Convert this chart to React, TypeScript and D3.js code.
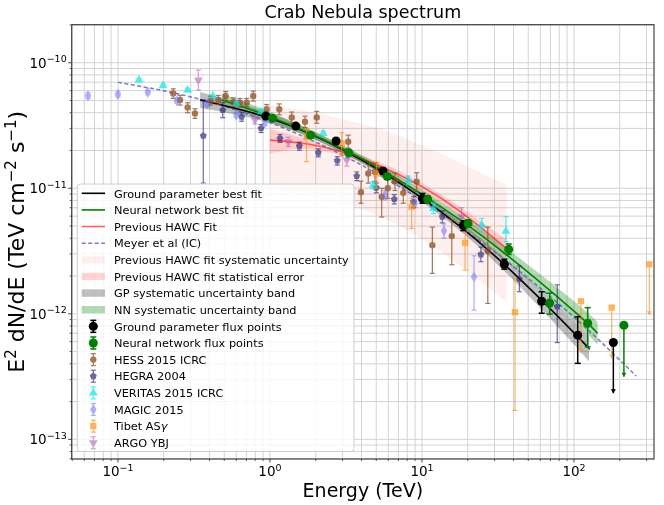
import React from 'react';
import * as d3 from 'd3';

const W = 664, H = 505;
const L = 71.7, R = 654, T = 24.7, B = 459;

// ---- fit curves ----
const gpFitE = [0.347, 1, 3.16, 10, 31.6, 100, 125.6];
const gpFitF = [5.05e-11, 3.61e-11, 1.97e-11, 8.36e-12, 2.75e-12, 7.05e-13, 5.24e-13];
const gpBandHi = [5.85e-11, 3.96e-11, 2.09e-11, 8.95e-12, 3.08e-12, 8.7e-13, 6.6e-13];
const gpBandLo = [4.36e-11, 3.31e-11, 1.86e-11, 7.8e-12, 2.45e-12, 5.7e-13, 4.16e-13];

const nnFitE = [0.481, 1, 3.16, 10, 31.6, 100, 143];
const nnFitF = [5.05e-11, 3.72e-11, 2.0e-11, 8.93e-12, 3.34e-12, 1.05e-12, 7.0e-13];
const nnBandHi = [5.67e-11, 4.08e-11, 2.14e-11, 9.68e-12, 3.74e-12, 1.26e-12, 8.6e-13];
const nnBandLo = [4.5e-11, 3.39e-11, 1.87e-11, 8.24e-12, 2.97e-12, 8.7e-13, 5.7e-13];

const hawcFitE = [1, 1.78, 3.16, 5.62, 10, 17.8, 36];
const hawcFitF = [2.42e-11, 2.25e-11, 1.9e-11, 1.46e-11, 1.03e-11, 6.55e-12, 3.32e-12];
const hawcStatHi = [2.96e-11, 2.45e-11, 2.0e-11, 1.56e-11, 1.1e-11, 7.1e-12, 3.9e-12];
const hawcStatLo = [1.9e-11, 2.05e-11, 1.78e-11, 1.37e-11, 9.6e-12, 6.0e-12, 2.83e-12];
const hawcSysHi = [4.6e-11, 4.1e-11, 3.5e-11, 2.9e-11, 2.2e-11, 1.6e-11, 1.06e-11];
const hawcSysLo = [9.7e-12, 8.6e-12, 7.3e-12, 5.8e-12, 3.9e-12, 2.4e-12, 1.24e-12];

const meyerE = [0.1, 0.316, 1, 3.16, 10, 31.6, 100, 257];
const meyerF = [6.98e-11, 5.27e-11, 3.34e-11, 1.78e-11, 7.94e-12, 2.98e-12, 9.4e-13, 3.19e-13];

// ---- flux points ----
const gpE = [0.94, 1.48, 2.72, 5.54, 10.07, 18.7, 34.8, 61.3, 105.8];
const gpF = [3.76e-11, 3.13e-11, 2.38e-11, 1.37e-11, 8.3e-12, 5.05e-12, 2.48e-12, 1.26e-12, 6.76e-13];
const gpHi = [3.9e-11, 3.25e-11, 2.48e-11, 1.45e-11, 9.1e-12, 5.5e-12, 2.72e-12, 1.5e-12, 9.46e-13];
const gpLo = [3.62e-11, 3.0e-11, 2.28e-11, 1.3e-11, 7.6e-12, 4.6e-12, 2.27e-12, 1.01e-12, 4.03e-13];
const gpUlE = [181.5];
const gpUlF = [5.9e-13];
const gpUlEnd = [2.33e-13];

const nnE = [1.04, 1.85, 3.3, 5.91, 10.9, 20.1, 37.2, 69.2, 123];
const nnF = [3.61e-11, 2.65e-11, 1.92e-11, 1.24e-11, 8.17e-12, 5.24e-12, 3.26e-12, 1.22e-12, 8.4e-13];
const nnHi = [3.75e-11, 2.76e-11, 2.0e-11, 1.3e-11, 8.7e-12, 5.6e-12, 3.6e-12, 1.46e-12, 1.12e-12];
const nnLo = [3.48e-11, 2.55e-11, 1.84e-11, 1.18e-11, 7.7e-12, 4.9e-12, 2.97e-12, 9.95e-13, 5.45e-13];
const nnUlE = [213];
const nnUlF = [8.1e-13];
const nnUlEnd = [3.15e-13];

const hessE = [0.231, 0.256, 0.287, 0.321, 0.407, 0.457, 0.511, 0.574, 0.635, 0.703, 0.776, 0.951, 1.151, 1.39, 1.70, 2.03, 3.27, 3.97, 4.43, 4.91, 5.43, 5.95, 6.64, 7.53, 9.23, 11.7, 15.7, 27.1];
const hessF = [5.7e-11, 5.05e-11, 4.41e-11, 3.95e-11, 4.98e-11, 5.05e-11, 5.43e-11, 4.86e-11, 4.8e-11, 4.8e-11, 5.43e-11, 4.26e-11, 4.26e-11, 3.67e-11, 3.39e-11, 3.67e-11, 2.35e-11, 9.3e-12, 1.31e-11, 1.35e-11, 8.55e-12, 1.0e-11, 1.13e-11, 9.2e-12, 1.13e-11, 3.52e-12, 4.16e-12, 3.16e-12];
const hessHi = [6.2e-11, 5.5e-11, 4.8e-11, 4.3e-11, 5.4e-11, 5.5e-11, 5.9e-11, 5.25e-11, 5.2e-11, 5.2e-11, 5.95e-11, 4.65e-11, 4.7e-11, 4.05e-11, 3.75e-11, 4.1e-11, 2.65e-11, 1.14e-11, 1.55e-11, 1.6e-11, 1.0e-11, 1.2e-11, 1.32e-11, 1.1e-11, 1.33e-11, 4.9e-12, 5.6e-12, 4.9e-12];
const hessLo = [5.2e-11, 4.6e-11, 4.0e-11, 3.6e-11, 4.6e-11, 4.65e-11, 5.0e-11, 4.5e-11, 4.45e-11, 4.45e-11, 4.95e-11, 3.9e-11, 3.85e-11, 3.3e-11, 3.05e-11, 3.3e-11, 2.08e-11, 7.6e-12, 1.1e-11, 1.13e-11, 5.9e-12, 8.3e-12, 9.6e-12, 7.6e-12, 9.5e-12, 2.1e-12, 2.46e-12, 1.21e-12];

const hegraE = [0.364, 0.489, 0.651, 0.873, 1.164, 1.56, 2.08, 2.77, 3.72, 5.0, 6.57, 8.77, 13.6, 24.4, 43.7, 77.6];
const hegraF = [2.62e-11, 4.2e-11, 3.71e-11, 3.0e-11, 2.5e-11, 2.17e-11, 1.92e-11, 1.66e-11, 1.25e-11, 1.01e-11, 8.2e-12, 7.8e-12, 5.93e-12, 2.97e-12, 1.89e-12, 1.14e-12];
const hegraHi = [5.05e-11, 4.8e-11, 4.0e-11, 3.22e-11, 2.68e-11, 2.33e-11, 2.06e-11, 1.79e-11, 1.35e-11, 1.1e-11, 8.9e-12, 8.6e-12, 6.6e-12, 3.4e-12, 2.4e-12, 1.7e-12];
const hegraLo = [1.1e-11, 3.65e-11, 3.42e-11, 2.78e-11, 2.32e-11, 2.01e-11, 1.78e-11, 1.53e-11, 1.15e-11, 9.2e-12, 7.5e-12, 7.0e-12, 5.3e-12, 2.6e-12, 1.5e-12, 5.9e-13];

const veritasE = [0.1375, 0.198, 0.287, 0.42, 0.602, 0.873, 2.24, 4.78, 8.13, 11.9, 24.7, 35.7];
const veritasF = [7.28e-11, 6.56e-11, 6.06e-11, 5.43e-11, 4.74e-11, 4.07e-11, 2.74e-11, 1.06e-11, 1.16e-11, 6.92e-12, 5.09e-12, 4.56e-12];
const veritasHi = [7.5e-11, 6.75e-11, 6.25e-11, 5.6e-11, 4.9e-11, 4.2e-11, 2.85e-11, 1.13e-11, 1.25e-11, 7.6e-12, 5.75e-12, 5.93e-12];
const veritasLo = [7.06e-11, 6.37e-11, 5.87e-11, 5.26e-11, 4.58e-11, 3.94e-11, 2.63e-11, 9.9e-12, 1.07e-11, 6.3e-12, 4.5e-12, 3.75e-12];

const magicE = [0.0635, 0.1, 0.157, 0.244, 0.385, 0.60, 0.927, 5.71, 8.99, 13.95, 22];
const magicF = [5.46e-11, 5.6e-11, 5.81e-11, 4.98e-11, 4.69e-11, 3.83e-11, 3.33e-11, 8.83e-12, 7.58e-12, 4.58e-12, 1.97e-12];
const magicHi = [5.75e-11, 5.85e-11, 6.05e-11, 5.2e-11, 4.9e-11, 4.0e-11, 3.5e-11, 9.6e-12, 8.2e-12, 5.2e-12, 2.9e-12];
const magicLo = [5.17e-11, 5.35e-11, 5.57e-11, 4.76e-11, 4.48e-11, 3.66e-11, 3.16e-11, 8.1e-12, 7.0e-12, 4.0e-12, 1.07e-12];

const tibetE = [1.74, 2.96, 5.03, 8.55, 19.2, 40.9];
const tibetF = [2.57e-11, 2.28e-11, 1.31e-11, 7.13e-12, 3.68e-12, 1.03e-12];
const tibetHi = [3.0e-11, 2.77e-11, 1.6e-11, 8.3e-12, 4.5e-12, 1.92e-12];
const tibetLo = [1.63e-11, 1.8e-11, 1.0e-11, 4.79e-12, 2.23e-12, 1.7e-13];
const tibetUlE = [111, 177, 313];
const tibetUlF = [1.26e-12, 1.12e-12, 2.48e-12];
const tibetUlEnd = [4.9e-13, 4.4e-13, 9.75e-13];

const argoE = [0.338, 0.797, 1.32, 3.2, 18.2];
const argoF = [7.28e-11, 3.49e-11, 2.35e-11, 1.68e-11, 5.93e-12];
const argoHi = [8.75e-11, 3.75e-11, 2.55e-11, 1.85e-11, 7.0e-12];
const argoLo = [6.05e-11, 3.25e-11, 2.15e-11, 1.5e-11, 4.9e-12];

const xTickLabels = ['−1', '0', '1', '2'];
const yTickLabels = ['−10', '−11', '−12', '−13'];

const legendLabels = [
  'Ground parameter best fit', 'Neural network best fit', 'Previous HAWC Fit', 'Meyer et al (IC)',
  'Previous HAWC fit systematic uncertainty', 'Previous HAWC fit statistical error',
  'GP systematic uncertainty band', 'NN systematic uncertainty band',
  'Ground parameter flux points', 'Neural network flux points', 'HESS 2015 ICRC', 'HEGRA 2004',
  'VERITAS 2015 ICRC', 'MAGIC 2015', 'Tibet AS', 'ARGO YBJ',
];

const x = d3.scaleLog().domain([0.0496, 336]).range([L, R]);
const y = d3.scaleLog().domain([6.97e-14, 2.01e-10]).range([B, T]);

const FONT = 'DejaVu Sans, sans-serif';

function pentagon(r: number) {
  const pts = d3.range(5).map((k) => {
    const a = -Math.PI / 2 + (k * 2 * Math.PI) / 5;
    return [r * Math.cos(a), r * Math.sin(a)];
  });
  return 'M' + pts.map((p) => p.join(',')).join('L') + 'Z';
}

type Style = { color: string; opacity: number; shape: string; size: number; cap: number; ew: number };

const markerPath = (s: Style) => {
  if (s.shape === 'pentagon') return pentagon(Math.sqrt(s.size / 2.4));
  const map: any = {
    circle: d3.symbolCircle, triangle: d3.symbolTriangle, diamond: d3.symbolDiamond,
    square: d3.symbolSquare, tdown: d3.symbolTriangle,
  };
  return d3.symbol().type(map[s.shape]).size(s.size)() as string;
};

function Marker({ cx, cy, s }: { cx: number; cy: number; s: Style }) {
  const rot = s.shape === 'tdown' ? ' rotate(180)' : '';
  return <path d={markerPath(s)} transform={`translate(${cx},${cy})${rot}`} fill={s.color} stroke="none" />;
}

function Series({ E, F, Hi, Lo, s }: { E: number[]; F: number[]; Hi: number[]; Lo: number[]; s: Style }) {
  return (
    <g opacity={s.opacity}>
      {E.map((e, i) => {
        const cx = x(e);
        return (
          <g key={i}>
            <line x1={cx} x2={cx} y1={y(Hi[i])} y2={y(Lo[i])} stroke={s.color} strokeWidth={s.ew} />
            <line x1={cx - s.cap} x2={cx + s.cap} y1={y(Hi[i])} y2={y(Hi[i])} stroke={s.color} strokeWidth={s.ew} />
            <line x1={cx - s.cap} x2={cx + s.cap} y1={y(Lo[i])} y2={y(Lo[i])} stroke={s.color} strokeWidth={s.ew} />
            <Marker cx={cx} cy={y(F[i])} s={s} />
          </g>
        );
      })}
    </g>
  );
}

function UL({ E, F, End, s }: { E: number[]; F: number[]; End: number[]; s: Style }) {
  return (
    <g opacity={s.opacity}>
      {E.map((e, i) => {
        const cx = x(e);
        const y0 = y(F[i]);
        const y1 = y(End[i]);
        return (
          <g key={i}>
            <line x1={cx} x2={cx} y1={y0} y2={y1} stroke={s.color} strokeWidth={s.ew} />
            <line x1={cx - s.cap} x2={cx + s.cap} y1={y0} y2={y0} stroke={s.color} strokeWidth={s.ew} />
            <path d={`M${cx - 2.5},${y1 - 4}L${cx + 2.5},${y1 - 4}L${cx},${y1}Z`} fill={s.color} />
            <Marker cx={cx} cy={y0} s={s} />
          </g>
        );
      })}
    </g>
  );
}

const stGP: Style = { color: '#000000', opacity: 1, shape: 'circle', size: 64, cap: 3, ew: 1.5 };
const stNN: Style = { color: '#008000', opacity: 1, shape: 'circle', size: 64, cap: 3, ew: 1.5 };
const stHESS: Style = { color: '#8b4a1c', opacity: 0.75, shape: 'circle', size: 32, cap: 2.5, ew: 1.2 };
const stHEGRA: Style = { color: '#1c1c6e', opacity: 0.65, shape: 'pentagon', size: 32, cap: 2.5, ew: 1.2 };
const stVER: Style = { color: '#00e8e8', opacity: 0.7, shape: 'triangle', size: 34, cap: 2.5, ew: 1.2 };
const stMAGIC: Style = { color: '#6a6aff', opacity: 0.55, shape: 'diamond', size: 36, cap: 2.5, ew: 1.2 };
const stTibet: Style = { color: '#ff8c00', opacity: 0.65, shape: 'square', size: 40, cap: 2.5, ew: 1.2 };
const stARGO: Style = { color: '#b050b0', opacity: 0.55, shape: 'tdown', size: 34, cap: 2.5, ew: 1.2 };

const lineGen = (E: number[], F: number[]) =>
  d3.line<number>().x((_, i) => x(E[i])).y((_, i) => y(F[i])).curve(d3.curveNatural)(E) as string;
const areaGen = (E: number[], Lo: number[], Hi: number[]) =>
  d3.area<number>().x((_, i) => x(E[i])).y0((_, i) => y(Lo[i])).y1((_, i) => y(Hi[i])).curve(d3.curveNatural)(E) as string;

export default function App() {
  const xMaj = [-1, 0, 1, 2];
  const xMinor: number[] = [];
  for (let p = -2; p <= 2; p++) for (let m = 2; m <= 9; m++) {
    const v = m * Math.pow(10, p);
    if (v > 0.0496 && v < 336) xMinor.push(v);
  }
  const yMaj = [-10, -11, -12, -13];
  const yMinor: number[] = [];
  for (let p = -14; p <= -10; p++) for (let m = 2; m <= 9; m++) {
    const v = m * Math.pow(10, p);
    if (v > 6.97e-14 && v < 2.01e-10) yMinor.push(v);
  }
  const gridC = '#d3d3d3';
  const legRow = (i: number) => 193.3 + 16.63 * i;
  const hx0 = 81.7, hx1 = 105, hxc = 93.3, tx = 114;

  const legendHandles = [
    <line x1={hx0} x2={hx1} y1={0} y2={0} stroke="#000" strokeWidth={1.6} />,
    <line x1={hx0} x2={hx1} y1={0} y2={0} stroke="#008000" strokeWidth={1.6} />,
    <line x1={hx0} x2={hx1} y1={0} y2={0} stroke="red" strokeOpacity={0.6} strokeWidth={1.6} />,
    <line x1={hx0} x2={hx1} y1={0} y2={0} stroke="#5a5ac0" strokeOpacity={0.8} strokeWidth={1.5} strokeDasharray="4,2.5" />,
    <rect x={hx0} y={-3.7} width={hx1 - hx0} height={7.4} fill="red" fillOpacity={0.06} />,
    <rect x={hx0} y={-3.7} width={hx1 - hx0} height={7.4} fill="red" fillOpacity={0.17} />,
    <rect x={hx0} y={-3.7} width={hx1 - hx0} height={7.4} fill="#000" fillOpacity={0.25} />,
    <rect x={hx0} y={-3.7} width={hx1 - hx0} height={7.4} fill="green" fillOpacity={0.3} />,
  ];
  const legendMarkers = [stGP, stNN, stHESS, stHEGRA, stVER, stMAGIC, stTibet, stARGO];

  return (
    <svg width={W} height={H} style={{ position: 'absolute', left: 0, top: 0, background: '#fff' }} fontFamily={FONT}>
      <rect x={0} y={0} width={W} height={H} fill="#fff" />
      {/* grid */}
      <g>
        {xMinor.map((v, i) => <line key={'xm' + i} x1={x(v)} x2={x(v)} y1={T} y2={B} stroke={gridC} strokeWidth={1} />)}
        {xMaj.map((p) => <line key={'xM' + p} x1={x(Math.pow(10, p))} x2={x(Math.pow(10, p))} y1={T} y2={B} stroke={gridC} strokeWidth={1} />)}
        {yMinor.map((v, i) => <line key={'ym' + i} x1={L} x2={R} y1={y(v)} y2={y(v)} stroke={gridC} strokeWidth={1} />)}
        {yMaj.map((p) => <line key={'yM' + p} x1={L} x2={R} y1={y(Math.pow(10, p))} y2={y(Math.pow(10, p))} stroke={gridC} strokeWidth={1} />)}
      </g>
      {/* bands */}
      <path d={areaGen(hawcFitE, hawcSysLo, hawcSysHi)} fill="red" fillOpacity={0.06} />
      <path d={areaGen(hawcFitE, hawcStatLo, hawcStatHi)} fill="red" fillOpacity={0.15} />
      <path d={areaGen(gpFitE, gpBandLo, gpBandHi)} fill="#000" fillOpacity={0.25} />
      <path d={areaGen(nnFitE, nnBandLo, nnBandHi)} fill="green" fillOpacity={0.3} />
      {/* lines */}
      <path d={lineGen(hawcFitE, hawcFitF)} fill="none" stroke="red" strokeOpacity={0.6} strokeWidth={1.6} />
      <path d={lineGen(meyerE, meyerF)} fill="none" stroke="#5a5ac0" strokeOpacity={0.8} strokeWidth={1.5} strokeDasharray="4,2.5" />
      <path d={lineGen(gpFitE, gpFitF)} fill="none" stroke="#000" strokeWidth={1.6} />
      <path d={lineGen(nnFitE, nnFitF)} fill="none" stroke="#008000" strokeWidth={1.6} />
      {/* data */}
      <Series E={hessE} F={hessF} Hi={hessHi} Lo={hessLo} s={stHESS} />
      <Series E={hegraE} F={hegraF} Hi={hegraHi} Lo={hegraLo} s={stHEGRA} />
      <Series E={veritasE} F={veritasF} Hi={veritasHi} Lo={veritasLo} s={stVER} />
      <Series E={magicE} F={magicF} Hi={magicHi} Lo={magicLo} s={stMAGIC} />
      <Series E={tibetE} F={tibetF} Hi={tibetHi} Lo={tibetLo} s={stTibet} />
      <UL E={tibetUlE} F={tibetUlF} End={tibetUlEnd} s={stTibet} />
      <Series E={argoE} F={argoF} Hi={argoHi} Lo={argoLo} s={stARGO} />
      <Series E={gpE} F={gpF} Hi={gpHi} Lo={gpLo} s={stGP} />
      <UL E={gpUlE} F={gpUlF} End={gpUlEnd} s={stGP} />
      <Series E={nnE} F={nnF} Hi={nnHi} Lo={nnLo} s={stNN} />
      <UL E={nnUlE} F={nnUlF} End={nnUlEnd} s={stNN} />

      {/* spines */}
      <rect x={L} y={T} width={R - L} height={B - T} fill="none" stroke="#333" strokeWidth={1.1} />
      {/* ticks */}
      {xMinor.map((v, i) => <line key={'xtm' + i} x1={x(v)} x2={x(v)} y1={B} y2={B + 2} stroke="#333" strokeWidth={0.8} />)}
      {xMaj.map((p, i) => (
        <g key={'xt' + p}>
          <line x1={x(Math.pow(10, p))} x2={x(Math.pow(10, p))} y1={B} y2={B + 3.5} stroke="#333" strokeWidth={0.9} />
          <text x={x(Math.pow(10, p))} y={476} textAnchor="middle" fontSize={13.5} fill="#000">
            10<tspan dy={-5.5} fontSize={9.5}>{xTickLabels[i]}</tspan>
          </text>
        </g>
      ))}
      {yMinor.map((v, i) => <line key={'ytm' + i} x1={L - 2} x2={L} y1={y(v)} y2={y(v)} stroke="#333" strokeWidth={0.8} />)}
      {yMaj.map((p, i) => (
        <g key={'yt' + p}>
          <line x1={L - 3.5} x2={L} y1={y(Math.pow(10, p))} y2={y(Math.pow(10, p))} stroke="#333" strokeWidth={0.9} />
          <text x={L - 5} y={y(Math.pow(10, p)) + 4.8} textAnchor="end" fontSize={13.5} fill="#000">
            10<tspan dy={-5.5} fontSize={9.5}>{yTickLabels[i]}</tspan>
          </text>
        </g>
      ))}
      {/* labels */}
      <text x={(L + R) / 2} y={18} textAnchor="middle" fontSize={17.5} fill="#000">Crab Nebula spectrum</text>
      <text x={(L + R) / 2} y={497} textAnchor="middle" fontSize={19} fill="#000">Energy (TeV)</text>
      <text transform={`translate(24,${(T + B) / 2}) rotate(-90)`} textAnchor="middle" fontSize={22} fill="#000">
        E<tspan dy={-8} fontSize={15}>2</tspan><tspan dy={8}> dN/dE (TeV cm</tspan><tspan dy={-8} fontSize={15}>−2</tspan><tspan dy={8}> s</tspan><tspan dy={-8} fontSize={15}>−1</tspan><tspan dy={8}>)</tspan>
      </text>

      {/* legend */}
      <rect x={77.3} y={184} width={276.7} height={267.5} rx={3} fill="#fff" fillOpacity={0.8} stroke="#cccccc" strokeWidth={1} />
      {legendLabels.map((lab, i) => {
        const cy = legRow(i);
        let handle: any = null;
        if (i < 8) handle = <g transform={`translate(0,${cy})`}>{legendHandles[i]}</g>;
        else {
          const s = legendMarkers[i - 8];
          handle = (
            <g opacity={s.opacity}>
              <line x1={hxc} x2={hxc} y1={cy - 6} y2={cy + 6} stroke={s.color} strokeWidth={s.ew} />
              <line x1={hxc - s.cap} x2={hxc + s.cap} y1={cy - 6} y2={cy - 6} stroke={s.color} strokeWidth={s.ew} />
              <line x1={hxc - s.cap} x2={hxc + s.cap} y1={cy + 6} y2={cy + 6} stroke={s.color} strokeWidth={s.ew} />
              <Marker cx={hxc} cy={cy} s={s} />
            </g>
          );
        }
        return (
          <g key={'lg' + i}>
            {handle}
            <text x={tx} y={cy + 4.2} fontSize={11.3} fill="#000">
              {lab}{i === 14 ? <tspan fontStyle="italic">γ</tspan> : null}
            </text>
          </g>
        );
      })}
    </svg>
  );
}
